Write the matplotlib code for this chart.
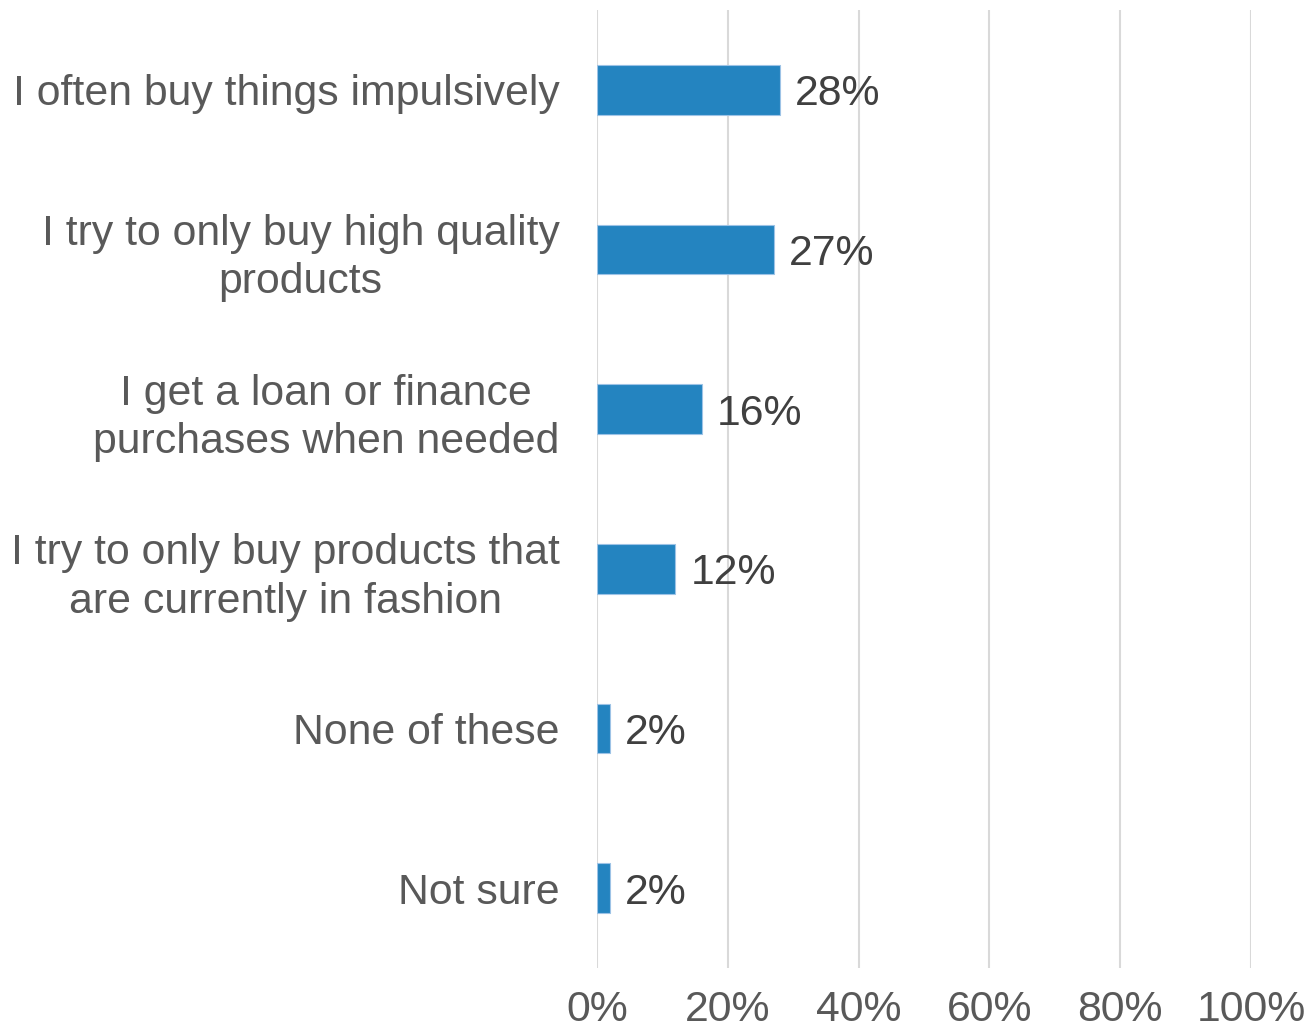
import matplotlib
matplotlib.use("Agg")
import matplotlib.pyplot as plt
from matplotlib import font_manager

categories = [
    "I often buy things impulsively",
    "I try to only buy high quality\nproducts",
    "I get a loan or finance\npurchases when needed",
    "I try to only buy products that\nare currently in fashion",
    "None of these",
    "Not sure",
]
values = [28, 27, 16, 12, 2, 2]
xticks = [0, 20, 40, 60, 80, 100]
xtick_labels = ["0%", "20%", "40%", "60%", "80%", "100%"]

installed = {f.name for f in font_manager.fontManager.ttflist}
base_font = "Liberation Sans"
narrow_font = "Liberation Sans Narrow" if "Liberation Sans Narrow" in installed else base_font

fig = plt.figure(figsize=(13.1, 10.34), dpi=100)
ax = fig.add_axes([0.4557, 0.0638, 0.4992, 0.9265])

y = list(range(len(categories)))
ax.barh(y, values, height=0.31, color="#2484C0", edgecolor="#9DC3E6", linewidth=0.8, zorder=3)
ax.set_ylim(len(categories) - 0.5, -0.5)
ax.set_xlim(0, 100)

for yi, v in zip(y, values):
    ax.annotate(f"{v}%", xy=(v, yi), xytext=(11, 0), textcoords="offset points",
                ha="left", va="center_baseline", fontsize=30.8, color="#404040",
                family=base_font)

ax.set_yticks(y)
ax.set_yticklabels(categories, fontsize=30.8, color="#595959", family=base_font,
                   multialignment="center", linespacing=1.27)
ax.tick_params(axis="y", length=0, pad=27)

ax.set_xticks(xticks)
ax.set_xticklabels(xtick_labels, fontsize=30.8, color="#595959", family=narrow_font)
ax.tick_params(axis="x", length=0, pad=16)

ax.grid(axis="x", color="#D9D9D9", linewidth=1.5, zorder=0)
for s in ax.spines.values():
    s.set_visible(False)

fig.savefig("out.png", dpi=100, facecolor="white")
